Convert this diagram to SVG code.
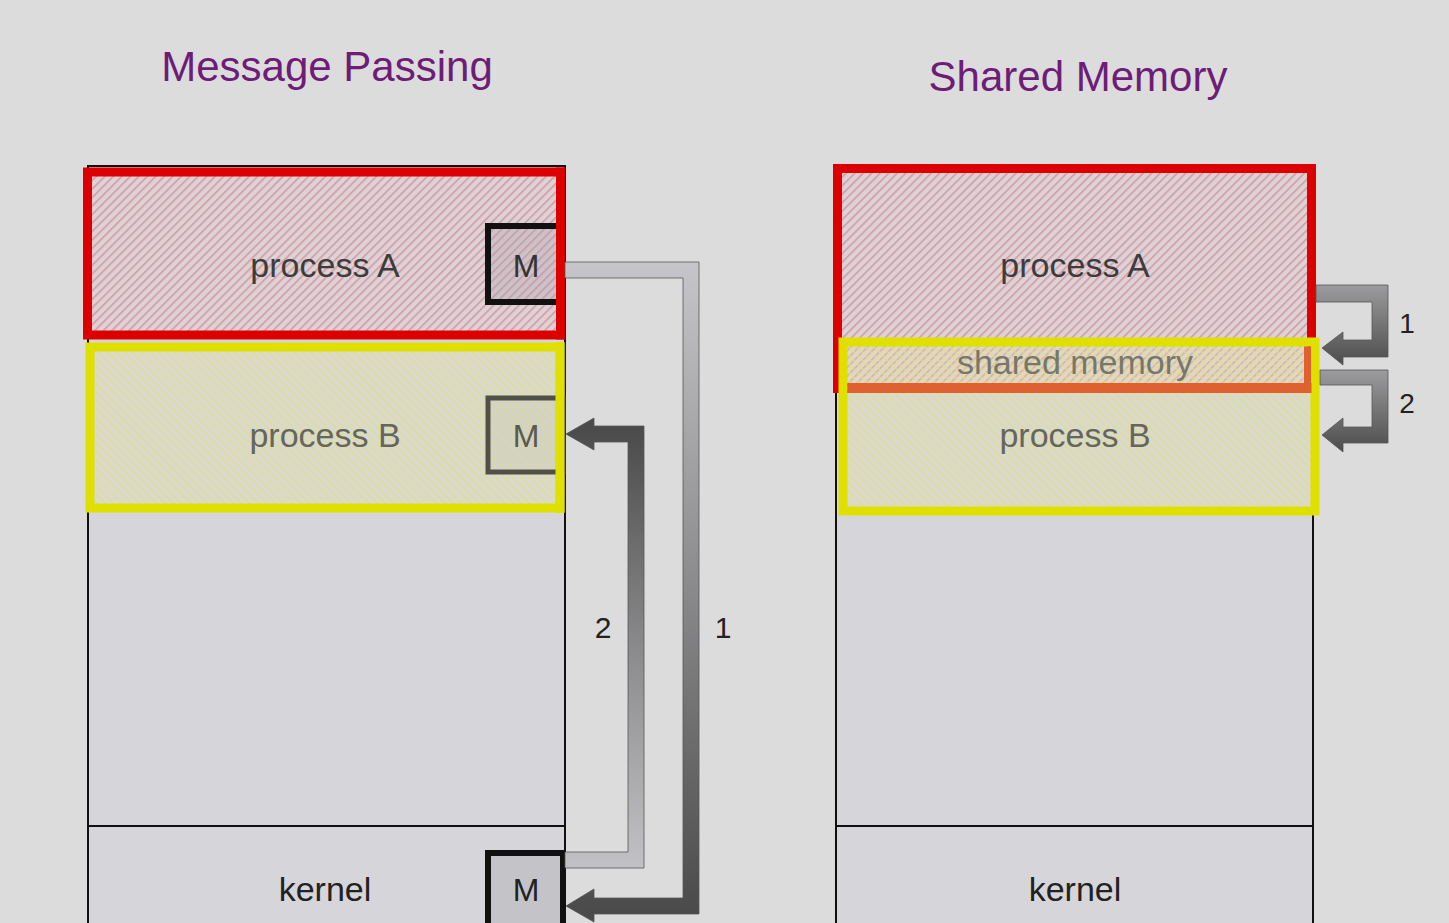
<svg xmlns="http://www.w3.org/2000/svg" width="1449" height="923" viewBox="0 0 1449 923">
<defs>
<pattern id="hatchRed" width="6" height="6" patternUnits="userSpaceOnUse" patternTransform="rotate(45)">
<rect width="6" height="6" fill="#ddd2d6"/>
<rect x="0" y="0" width="1.6" height="6" fill="#d49aa4"/>
</pattern>
<pattern id="hatchYellow" width="6" height="6" patternUnits="userSpaceOnUse" patternTransform="rotate(-45)">
<rect x="0" y="0" width="1.6" height="6" fill="#dede88" fill-opacity="0.8"/>
</pattern>
<linearGradient id="g1" gradientUnits="userSpaceOnUse" x1="0" y1="262" x2="0" y2="914">
<stop offset="0" stop-color="#c6c6ca"/>
<stop offset="0.5" stop-color="#8a8a8c"/>
<stop offset="1" stop-color="#4a4a4a"/>
</linearGradient>
<linearGradient id="g2" gradientUnits="userSpaceOnUse" x1="0" y1="426" x2="0" y2="868">
<stop offset="0" stop-color="#4a4a4a"/>
<stop offset="0.5" stop-color="#8a8a8c"/>
<stop offset="1" stop-color="#c2c2c6"/>
</linearGradient>
<linearGradient id="g3" gradientUnits="userSpaceOnUse" x1="0" y1="285" x2="0" y2="365">
<stop offset="0" stop-color="#9c9c9e"/>
<stop offset="1" stop-color="#4c4c4c"/>
</linearGradient>
<linearGradient id="g4" gradientUnits="userSpaceOnUse" x1="0" y1="370" x2="0" y2="452">
<stop offset="0" stop-color="#9c9c9e"/>
<stop offset="1" stop-color="#4c4c4c"/>
</linearGradient>
</defs>
<style>
.col{fill:#d5d5da;stroke:#111;stroke-width:2}
.div{stroke:#111;stroke-width:2}
.red{fill:url(#hatchRed);stroke:#dd0000;stroke-width:9}
.yel{fill:url(#hatchYellow);stroke:#e0e000;stroke-width:9}
.ytint{fill:#e4e4b0;fill-opacity:0.3}
.t{font-family:"Liberation Sans",Arial,sans-serif;text-anchor:middle}
.title{font-size:42px;fill:#6e1c78}
.lbl{font-size:34px}
.m{font-size:32px}
.num{font-size:30px;fill:#222}
.arrow{stroke:#555;stroke-width:0.8}
</style>
<rect width="1449" height="923" fill="#dcdcdc"/>

<g id="title-mp"><text class="t title" x="327" y="81">Message Passing</text></g>
<g id="title-sm"><text class="t title" x="1078" y="91">Shared Memory</text></g>

<g id="mp-column">
<rect class="col" x="88" y="166" width="477" height="800"/>
<line class="div" x1="88" y1="826" x2="565" y2="826"/>
</g>

<g id="mp-process-b">
<rect class="ytint" x="90" y="347" width="470" height="161"/>
<rect class="yel" x="90" y="347" width="470" height="161"/>
<text class="t lbl" x="325" y="447" fill="#66665c">process B</text>
</g>
<g id="mp-m-b">
<rect x="488" y="398" width="75" height="74" fill="#c8c8b8" fill-opacity="0.3" stroke="#505048" stroke-width="5"/>
<text class="t m" x="526" y="447" fill="#5a5a50">M</text>
<rect x="555.5" y="342" width="9" height="171" fill="#e0e000"/>
</g>

<g id="mp-process-a">
<rect class="red" x="87.5" y="172" width="473" height="163"/>
<text class="t lbl" x="325" y="277" fill="#3c3c3c">process A</text>
</g>
<g id="mp-m-a">
<rect x="488" y="226" width="75" height="76" fill="#a8a0a8" fill-opacity="0.3" stroke="#111" stroke-width="6"/>
<text class="t m" x="526" y="277" fill="#333">M</text>
<rect x="556" y="167.5" width="9" height="172" fill="#dd0000"/>
</g>

<g id="mp-kernel">
<text class="t lbl" x="325" y="901" fill="#222">kernel</text>
</g>
<g id="mp-m-k">
<rect x="488" y="853" width="75" height="100" fill="#c4c4c8" stroke="#111" stroke-width="6"/>
<text class="t m" x="526" y="901" fill="#222">M</text>
</g>

<g id="sm-column">
<rect class="col" x="836" y="166" width="477" height="800"/>
<line class="div" x1="836" y1="826" x2="1313" y2="826"/>
</g>
<g id="sm-process-a">
<rect class="red" x="837.5" y="168.5" width="474" height="220"/>
<text class="t lbl" x="1075" y="277" fill="#3c3c3c">process A</text>
</g>
<g id="sm-process-b">
<rect class="ytint" x="843" y="342" width="472" height="169"/>
<rect class="yel" x="843" y="342" width="472" height="169"/>
<rect x="847.5" y="383" width="464" height="10" fill="#e06030"/>
<rect x="1304" y="346.5" width="7" height="46" fill="#e06030"/>
<text class="t lbl" x="1075" y="447" fill="#66665c">process B</text>
</g>
<g id="sm-shared">
<text class="t lbl" x="1075" y="374" fill="#77776a">shared memory</text>
</g>
<g id="sm-kernel">
<text class="t lbl" x="1075" y="901" fill="#222">kernel</text>
</g>

<g id="connectors">
<path class="arrow" fill="url(#g1)" d="M565,262 L699,262 L699,914 L594,914 L594,922 L566,906 L594,889 L594,898 L683,898 L683,278 L565,278 Z"/>
<path class="arrow" fill="url(#g2)" d="M565,868 L644,868 L644,426 L594,426 L594,418 L566,434 L594,450 L594,442 L628,442 L628,852 L565,852 Z"/>
<path class="arrow" fill="url(#g3)" d="M1316,285 L1388,285 L1388,357 L1343,357 L1343,365 L1322,348 L1343,332 L1343,340 L1372,340 L1372,302 L1316,302 Z"/>
<path class="arrow" fill="url(#g4)" d="M1320,370 L1388,370 L1388,443 L1343,443 L1343,452 L1322,435 L1343,418 L1343,427 L1372,427 L1372,385 L1320,385 Z"/>
</g>
<g id="labels">
<text class="t num" x="603" y="638">2</text>
<text class="t num" x="723" y="638">1</text>
<text class="t num" x="1407" y="333" style="font-size:28px">1</text>
<text class="t num" x="1407" y="413" style="font-size:28px">2</text>
</g>
</svg>
